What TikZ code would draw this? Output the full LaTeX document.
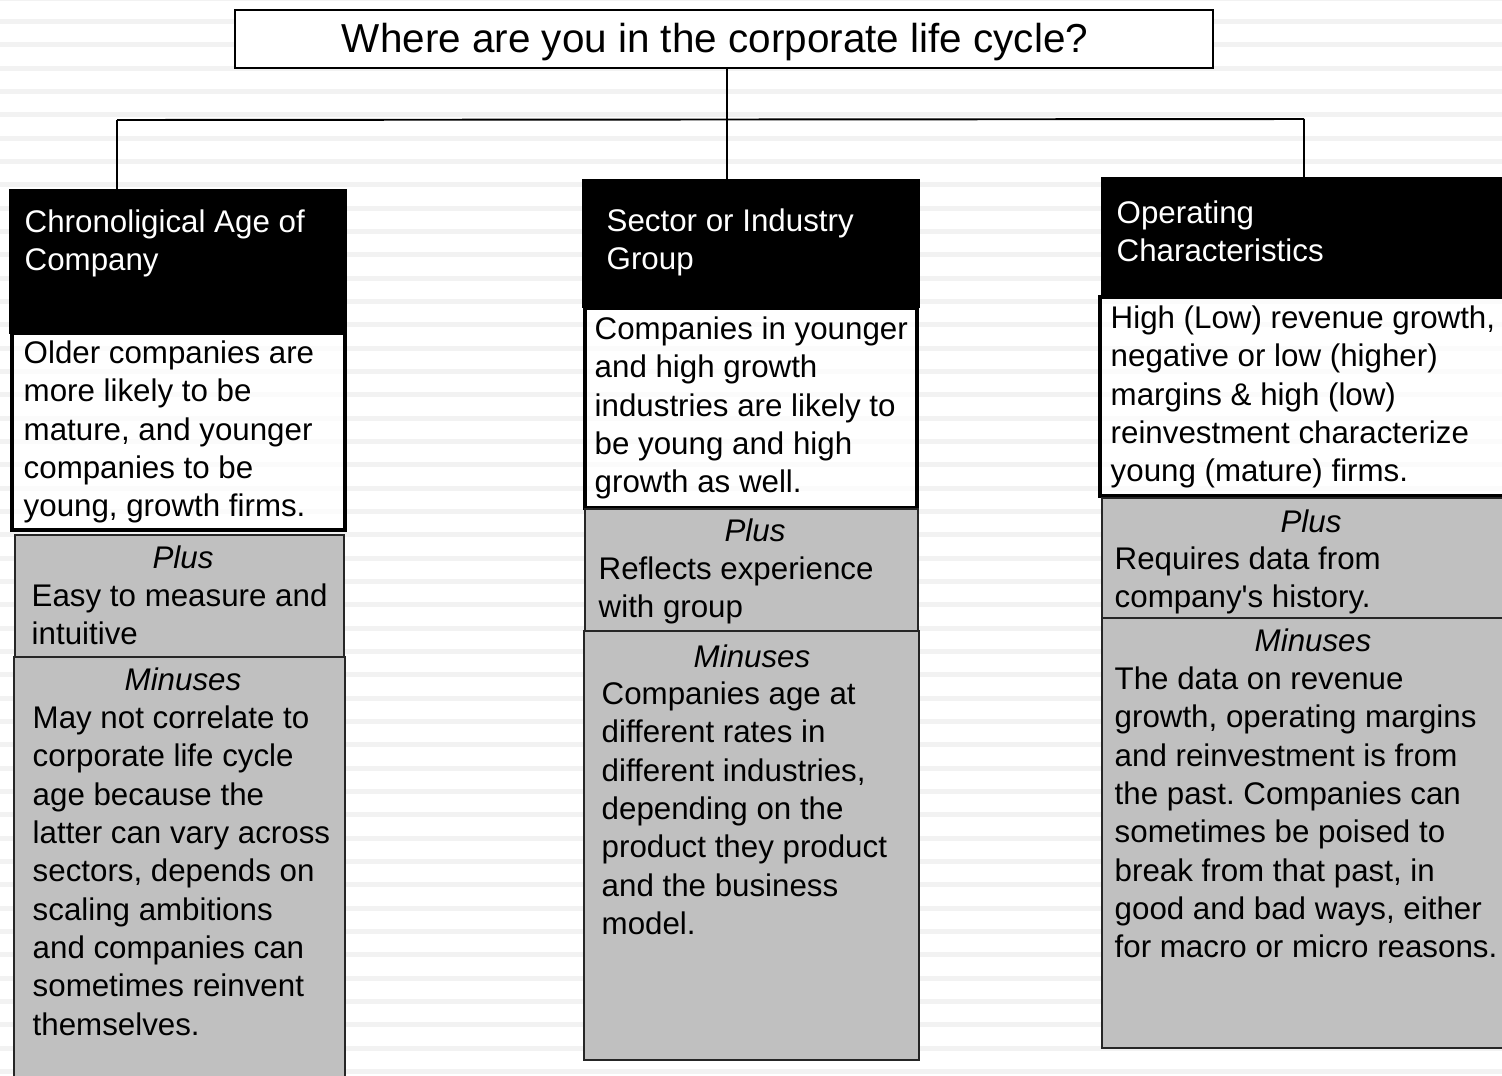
\documentclass[tikz,border=0pt]{standalone}
\usepackage{fontspec}
\setmainfont{Liberation Sans}
\usetikzlibrary{positioning,fit}
\frenchspacing

\definecolor{boxgray}{RGB}{192,192,192}
\definecolor{stripegray}{RGB}{242,242,242}

\tikzset{
  every node/.style={font=\fontsize{8.9}{10.9}\selectfont},
  link/.style={line width=0.55pt},
  titlebox/.style={draw=black, line width=0.6pt, fill=white, inner sep=0pt},
  hdrbox/.style={fill=black, draw=black, inner sep=0pt},
  whitebox/.style={fill=white, fill opacity=0.7, draw=black, draw opacity=1, line width=0.9pt, inner sep=0pt},
  graybox/.style={fill=boxgray, draw=black!85, line width=0.55pt, inner sep=0pt},
  hdrtxt/.style={text=white, align=left, anchor=north west, inner sep=0pt},
  bodytxt/.style={align=left, anchor=north west, inner sep=0pt},
  lbl/.style={font=\fontsize{8.9}{10.9}\selectfont\itshape, inner sep=0pt},
}

\begin{document}
\begin{tikzpicture}[x=0.01cm, y=-0.01cm]
       \useasboundingbox (0,0) rectangle (1502,1075);
       \fill[white] (0,0) rectangle (1502,1075);
       \foreach \k in {-1,...,45}
         \fill[stripegray] (0,{19+23.33*\k}) rectangle (1502,{24+23.33*\k});

       \node[titlebox, fit={(235,10) (1213,68)}] (title) {};
       \node[font=\fontsize{11.5}{14}\selectfont] (titletxt) at (715,42) {Where are you in the corporate life cycle?};

       % age column
       \node[hdrbox, fit={(10,190) (346,333)}] (ageH) {};
       \node[hdrtxt] (ageHt) at (24,209) {Chronoligical Age of\\Company};
       \node[whitebox, fit={(12,333) (345,530)}] (ageW) {};
       \node[bodytxt] (ageWt) at (23,340) {Older companies are\\more likely to be\\mature, and younger\\companies to be\\young, growth firms.};
       \node[graybox, fit={(15,535) (344,657)}] (ageP) {};
       \node[lbl] (agePl) at (183,557) {Plus};
       \node[bodytxt] (agePt) at (31,583) {Easy to measure and\\intuitive};
       \node[graybox, fit={(14,657) (345,1090)}] (ageM) {};
       \node[lbl] (ageMl) at (183,679) {Minuses};
       \node[bodytxt] (ageMt) at (32,705) {May not correlate to\\corporate life cycle\\age because the\\latter can vary across\\sectors, depends on\\scaling ambitions\\and companies can\\sometimes reinvent\\themselves.};

       % sector column
       \node[hdrbox, fit={(583,180) (919,307)}] (sectH) {};
       \node[hdrtxt] (sectHt) at (606,208) {Sector or Industry\\Group};
       \node[whitebox, fit={(585,308) (917,508)}] (sectW) {};
       \node[bodytxt] (sectWt) at (594,316) {Companies in younger\\and high growth\\industries are likely to\\be young and high\\growth as well.};
       \node[graybox, fit={(585,509) (918,631)}] (sectP) {};
       \node[lbl] (sectPl) at (755,530) {Plus};
       \node[bodytxt] (sectPt) at (598,556) {Reflects experience\\with group};
       \node[graybox, fit={(584,631) (919,1060)}] (sectM) {};
       \node[lbl] (sectMl) at (752,656) {Minuses};
       \node[bodytxt] (sectMt) at (601,681) {Companies age at\\different rates in\\different industries,\\depending on the\\product they product\\and the business\\model.};

       % operating column
       \node[hdrbox, fit={(1102,178) (1530,297)}] (opH) {};
       \node[hdrtxt] (opHt) at (1116,200) {Operating\\Characteristics};
       \node[whitebox, fit={(1100,297) (1530,496)}] (opW) {};
       \node[bodytxt] (opWt) at (1110,305) {High (Low) revenue growth,\\negative or low (higher)\\margins \& high (low)\\reinvestment characterize\\young (mature) firms.};
       \node[graybox, fit={(1102,498) (1530,618)}] (opP) {};
       \node[lbl] (opPl) at (1311,521) {Plus};
       \node[bodytxt] (opPt) at (1114,546) {Requires data from\\company\textquotesingle s history.};
       \node[graybox, fit={(1102,618) (1530,1048)}] (opM) {};
       \node[lbl] (opMl) at (1313,640) {Minuses};
       \node[bodytxt] (opMt) at (1114,666) {The data on revenue\\growth, operating margins\\and reinvestment is from\\the past. Companies can\\sometimes be poised to\\break from that past, in\\good and bad ways, either\\for macro or micro reasons.};

       % tree lines
       \coordinate (barL) at (117,120);
       \coordinate (barM) at (727,120);
       \coordinate (barR) at (1304,119);
       \draw[link] (barL) -- (barR);
       \draw[link] (title.south -| barM) -- (barM |- sectH.north);
       \draw[link] (barL) -- (barL |- ageH.north);
       \draw[link] (barR) -- (barR |- opH.north);
\end{tikzpicture}
\end{document}
